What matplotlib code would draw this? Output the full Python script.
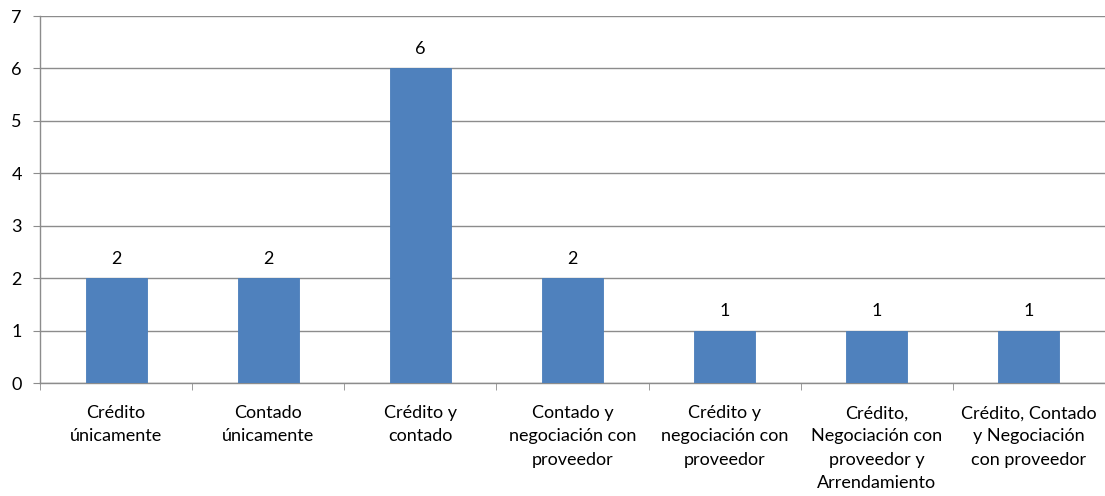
import matplotlib
matplotlib.use("Agg")
import matplotlib.pyplot as plt
import numpy as np

categorias = ["Crédito\núnicamente", "Contado\núnicamente", "Crédito y\ncontado",
              "Contado y\nnegociación con\nproveedor", "Crédito y\nnegociación con\nproveedor",
              "Crédito,\nNegociación con\nproveedor y\nArrendamiento",
              "Crédito, Contado\ny Negociación\ncon proveedor"]
valores = [2, 2, 6, 2, 1, 1, 1]

plt.rcParams['font.family'] = ['Lato', 'DejaVu Sans']

fig = plt.figure(figsize=(11.05, 4.96), dpi=100)
ax = fig.add_axes([40 / 1105, 1 - 383 / 496, 1 - 40 / 1105, (383 - 16) / 496])

x = np.arange(len(valores))
bars = ax.bar(x, valores, width=0.4, color="#4F81BD", edgecolor="#4A7EBB", linewidth=0.6, zorder=3)
for xi, v in zip(x, valores):
    ax.text(xi, v + 0.22, str(v), ha="center", va="bottom", fontsize=13, color="black")

ax.set_ylim(0, 7)
ax.set_xlim(-0.5, len(valores) - 0.5)
ax.set_yticks(range(8))
ax.yaxis.grid(True, color="#8C8C8C", linewidth=1.0, zorder=0)
ax.tick_params(axis="y", length=5, color="#8C8C8C", labelsize=13, pad=8)

ax.set_xticks(x)
ax.set_xticklabels(categorias, fontsize=13, va="top", linespacing=1.55)
ax.tick_params(axis="x", length=0, pad=16)
ax.set_xticks(np.arange(-0.5, len(valores), 1), minor=True)
ax.tick_params(axis="x", which="minor", length=5, color="#8C8C8C")

for s in ["top", "right"]:
    ax.spines[s].set_visible(False)
for s in ["left", "bottom"]:
    ax.spines[s].set_color("#8C8C8C")
    ax.spines[s].set_linewidth(1.0)

fig.savefig("out.png", dpi=100)
